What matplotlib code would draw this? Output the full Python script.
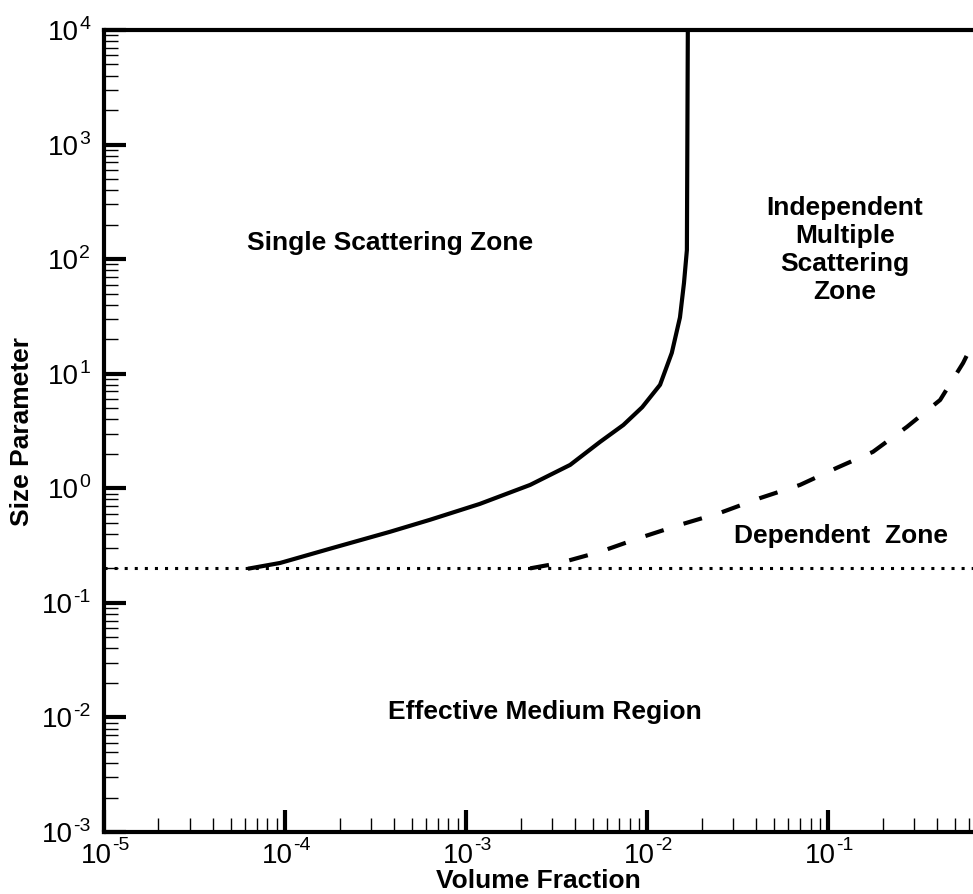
import numpy as np
import matplotlib
matplotlib.use("Agg")
import matplotlib.pyplot as plt
from matplotlib.ticker import LogLocator, FixedLocator, NullFormatter
from matplotlib.transforms import blended_transform_factory, offset_copy

plt.rcParams['font.family'] = ['Liberation Sans', 'DejaVu Sans']

# boundary single / independent multiple scattering
single_vf = [6.4e-5, 9.4e-5, 1.84e-4, 3.8e-4, 6.3e-4, 1.19e-3, 2.26e-3, 3.76e-3,
             5.5e-3, 7.4e-3, 9.4e-3, 0.0118, 0.0137, 0.0152, 0.0160, 0.0166, 0.0168]
single_sp = [0.2, 0.223, 0.302, 0.417, 0.53, 0.73, 1.07, 1.6,
             2.54, 3.57, 5.1, 8.0, 15.2, 31, 62, 120, 1e4]

# boundary independent / dependent scattering
dep_vf = [2.26e-3, 3.3e-3, 5.5e-3, 9.1e-3, 0.0152, 0.0253, 0.042, 0.070,
          0.112, 0.177, 0.273, 0.416, 0.557, 0.633]
dep_sp = [0.2, 0.223, 0.279, 0.369, 0.48, 0.61, 0.82, 1.07,
          1.51, 2.08, 3.44, 5.9, 12.4, 18.6]

# effective medium limit
emr_sp = 0.2

x_exp = [-5, -4, -3, -2, -1]
y_exp = [-3, -2, -1, 0, 1, 2, 3, 4]

xmin, xmax = 1e-5, 0.632
ymin, ymax = 1e-3, 1e4

fig = plt.figure(figsize=(9.73, 8.94), dpi=100)
ax = fig.add_axes([104 / 973, 62 / 894, 869 / 973, 802 / 894])

ax.plot(single_vf, single_sp, color='black', lw=3.0, solid_joinstyle='round')
ax.plot(dep_vf, dep_sp, color='black', lw=3.0, dashes=(4.6, 5.0))
ax.plot([xmin, xmax], [emr_sp, emr_sp], color='black', lw=2.2, dashes=(1.0, 2.3))

ax.set_xscale('log')
ax.set_yscale('log')
ax.set_xlim(xmin, xmax)
ax.set_ylim(ymin, ymax)

ax.xaxis.set_major_locator(FixedLocator([10.0 ** e for e in x_exp]))
ax.yaxis.set_major_locator(FixedLocator([10.0 ** e for e in y_exp]))
ax.xaxis.set_minor_locator(LogLocator(base=10, subs=np.arange(2, 10), numticks=20))
ax.yaxis.set_minor_locator(LogLocator(base=10, subs=np.arange(2, 10), numticks=20))
ax.xaxis.set_minor_formatter(NullFormatter())
ax.yaxis.set_minor_formatter(NullFormatter())

ax.tick_params(which='major', direction='in', length=16, width=3,
               top=False, right=False, labelbottom=False, labelleft=False)
ax.tick_params(which='minor', direction='in', length=10, width=1,
               top=False, right=False)

for side in ['left', 'bottom', 'top']:
    ax.spines[side].set_linewidth(3)
ax.spines['right'].set_visible(False)

# tick labels as "10" with a small raised exponent
renderer = fig.canvas.get_renderer()
xtrans = blended_transform_factory(ax.transData, ax.transAxes)
for e in x_exp:
    t = 10.0 ** e
    ax.text(t, 0, '10', fontsize=20, ha='right', va='baseline',
            transform=offset_copy(xtrans, fig=fig, x=8, y=-31, units='dots'))
    ax.text(t, 0, str(e), fontsize=14, ha='left', va='baseline',
            transform=offset_copy(xtrans, fig=fig, x=8, y=-18, units='dots'))

ytrans = blended_transform_factory(ax.transAxes, ax.transData)
for e in y_exp:
    t = 10.0 ** e
    sup = ax.text(0, t, str(e), fontsize=14, ha='right', va='baseline',
                  transform=offset_copy(ytrans, fig=fig, x=-14, y=1, units='dots'))
    w = sup.get_window_extent(renderer).width
    ax.text(0, t, '10', fontsize=20, ha='right', va='baseline',
            transform=offset_copy(ytrans, fig=fig, x=-14 - w, y=-10, units='dots'))

ax.set_xlabel('Volume Fraction', fontsize=19, fontweight='bold')
ax.xaxis.set_label_coords(0.5, -(888 - 832) / 802)
ax.xaxis.label.set_va('baseline')
ax.set_ylabel('Size Parameter', fontsize=19, fontweight='bold')
ax.yaxis.set_label_coords(-(104 - 34) / 869, 0.5)

txt = dict(fontsize=19, fontweight='bold', ha='center', va='center')
ax.text(3.8e-4, 138, 'Single Scattering Zone', **txt)
ax.text(0.124, 120, 'Independent\nMultiple\nScattering\nZone', linespacing=1.2, **txt)
ax.text(0.118, 0.385, 'Dependent  Zone', **txt)
ax.text(2.73e-3, 0.0112, 'Effective Medium Region', **txt)

fig.savefig('out.png', dpi=100)
